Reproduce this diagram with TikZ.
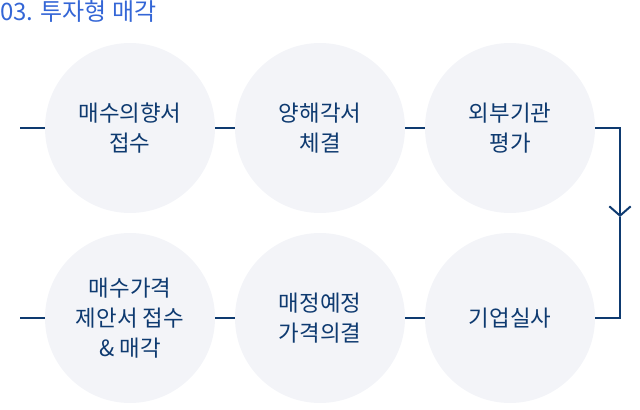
\documentclass[tikz,border=0pt]{standalone}
\usepackage{fontspec}
\setmainfont{Noto Sans CJK KR}
\usetikzlibrary{arrows.meta,positioning}
\definecolor{navy}{RGB}{14,58,112}
\definecolor{bubble}{RGB}{243,244,248}
\definecolor{titleblue}{RGB}{52,102,214}

\begin{document}
\begin{tikzpicture}[x=0.75pt,y=-0.75pt,
  st/.style={circle, fill=bubble, minimum size=127.5pt, inner sep=0pt, align=center, text=navy, font=\fontsize{16.8}{22.5}\selectfont},
  ln/.style={draw=navy, line width=1.5pt},
  a/.style={ln, -{Straight Barb[length=7pt,width=16pt]}}]
\useasboundingbox (0,0) rectangle (640,410);
\node[anchor=north west, inner sep=0pt, text=titleblue, font=\fontsize{18}{20}\selectfont] (title) at (0,0) {03. 투자형 매각};
% top row
\foreach \i/\txt in {1/{매수의향서\\접수}, 2/{양해각서\\체결}, 3/{외부기관\\평가}}{
  \node[st] (t\i) at (\i*190-60,128) {\txt};
}
% bottom row
\foreach \i/\txt in {1/{매수가격\\제안서 접수\\\& 매각}, 2/{매정예정\\가격의결}, 3/{기업실사}}{
  \node[st] (b\i) at (\i*190-60,318) {\txt};
}
\coordinate (tin) at (20,128);
\coordinate (turn) at (620,217);
\coordinate (bout) at (20,318);
\draw[ln] (tin) -- (t1);
\draw[ln] (t1) -- (t2);
\draw[ln] (t2) -- (t3);
\draw[a] (t3.east) -| (turn);
\draw[ln] (turn) |- (b3.east);
\draw[ln] (b3) -- (b2);
\draw[ln] (b2) -- (b1);
\draw[ln] (b1) -- (bout);
\end{tikzpicture}
\end{document}
